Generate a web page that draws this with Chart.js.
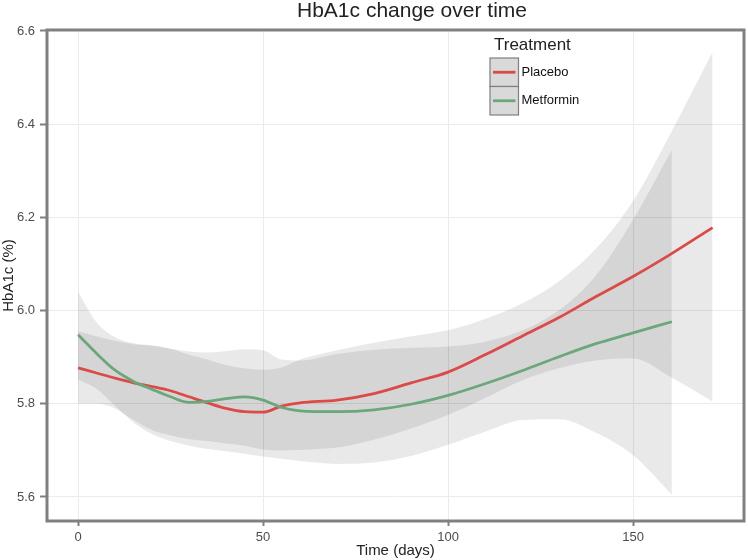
<!DOCTYPE html>
<html>
<head>
<meta charset="utf-8">
<script src="https://cdn.jsdelivr.net/npm/chart.js@4.4.1/dist/chart.umd.min.js"></script>
<style>
  html, body { margin: 0; padding: 0; background: #fff; }
  #chart { display: block; }
</style>
</head>
<body>
<canvas id="chart" width="748" height="560"></canvas>
<script>
// values
const chartTitle = 'HbA1c change over time';
const legendTitle = 'Treatment';
const seriesNames = ['Placebo', 'Metformin'];
const seriesColors = ['#dc4a48', '#6aa77b'];

const placeboDays = [0, 5, 10, 15, 20, 25, 30, 35, 40, 45, 50, 55, 60, 70, 80, 90, 100, 110, 120, 130, 140, 150, 160, 171.5];
const placeboMean = [5.877, 5.866, 5.855, 5.845, 5.837, 5.828, 5.815, 5.802, 5.790, 5.783, 5.782, 5.795, 5.802, 5.808, 5.822, 5.845, 5.868, 5.905, 5.945, 5.985, 6.030, 6.073, 6.120, 6.178];
const placeboUpper = [5.955, 5.945, 5.935, 5.928, 5.925, 5.918, 5.905, 5.895, 5.883, 5.876, 5.873, 5.878, 5.895, 5.915, 5.931, 5.945, 5.958, 5.982, 6.015, 6.063, 6.133, 6.235, 6.378, 6.555];
const placeboLower = [5.800, 5.800, 5.790, 5.765, 5.743, 5.732, 5.724, 5.720, 5.715, 5.710, 5.702, 5.700, 5.701, 5.706, 5.723, 5.747, 5.776, 5.812, 5.850, 5.876, 5.893, 5.897, 5.858, 5.805];

const metforminDays = [0, 5, 10, 15, 20, 25, 30, 35, 40, 45, 50, 55, 60, 70, 80, 90, 100, 110, 120, 130, 140, 150, 160.5];
const metforminMean = [5.948, 5.908, 5.872, 5.848, 5.831, 5.815, 5.803, 5.805, 5.811, 5.815, 5.808, 5.792, 5.785, 5.783, 5.787, 5.799, 5.818, 5.843, 5.871, 5.901, 5.929, 5.952, 5.976];
const metforminUpper = [6.040, 5.975, 5.943, 5.930, 5.925, 5.918, 5.912, 5.910, 5.913, 5.917, 5.915, 5.895, 5.893, 5.907, 5.916, 5.920, 5.923, 5.933, 5.957, 6.001, 6.076, 6.195, 6.345];
const metforminLower = [5.852, 5.832, 5.795, 5.760, 5.735, 5.720, 5.710, 5.703, 5.698, 5.693, 5.687, 5.682, 5.677, 5.671, 5.674, 5.688, 5.712, 5.740, 5.765, 5.767, 5.738, 5.690, 5.605];

const xTicks = [0, 50, 100, 150];
const yTicks = [5.6, 5.8, 6.0, 6.2, 6.4, 6.6];

const FONT = "'Liberation Sans', Arial, Helvetica, sans-serif";
const ribbonFill = 'rgba(0, 0, 0, 0.085)';

function points(days, values) {
    return days.map((d, i) => ({ x: d, y: values[i] }));
}

function ribbon(days, values, fill) {
    return {
        data: points(days, values),
        borderWidth: 0,
        pointRadius: 0,
        backgroundColor: ribbonFill,
        fill: fill,
        cubicInterpolationMode: 'monotone'
    };
}

function meanLine(days, values, color) {
    return {
        data: points(days, values),
        borderColor: color,
        borderWidth: 2.8,
        pointRadius: 0,
        fill: false,
        cubicInterpolationMode: 'monotone'
    };
}

// ggplot-like title, panel border and legend inside the panel
const panelPlugin = {
    id: 'panel',
    afterDraw(chart) {
        const { ctx, chartArea } = chart;
        ctx.save();
        ctx.strokeStyle = '#808080';
        ctx.lineWidth = 3;
        ctx.strokeRect(chartArea.left, chartArea.top, chartArea.right - chartArea.left, chartArea.bottom - chartArea.top);

        ctx.fillStyle = '#222';
        ctx.font = '21px ' + FONT;
        ctx.textAlign = 'center';
        ctx.textBaseline = 'middle';
        ctx.fillText(chartTitle, 412, 11);

        // legend
        const lx = 490, ly = 58, key = 28.5;
        ctx.textAlign = 'left';
        ctx.font = '17px ' + FONT;
        ctx.fillText(legendTitle, 494, 45);
        seriesNames.forEach((name, i) => {
            const y = ly + i * key;
            ctx.fillStyle = '#d9d9d9';
            ctx.fillRect(lx, y, key, key);
            ctx.strokeStyle = '#7f7f7f';
            ctx.lineWidth = 1.2;
            ctx.strokeRect(lx, y, key, key);
            ctx.strokeStyle = seriesColors[i];
            ctx.lineWidth = 2.8;
            ctx.beginPath();
            ctx.moveTo(lx + 3, y + key / 2);
            ctx.lineTo(lx + key - 3, y + key / 2);
            ctx.stroke();
            ctx.fillStyle = '#111';
            ctx.font = '13px ' + FONT;
            ctx.fillText(name, lx + key + 3, y + key / 2);
        });
        ctx.restore();
    }
};

const ctx = document.getElementById('chart').getContext('2d');
new Chart(ctx, {
    type: 'line',
    data: {
        datasets: [
            ribbon(placeboDays, placeboLower, false),
            ribbon(placeboDays, placeboUpper, '-1'),
            ribbon(metforminDays, metforminLower, false),
            ribbon(metforminDays, metforminUpper, '-1'),
            meanLine(metforminDays, metforminMean, seriesColors[1]),
            meanLine(placeboDays, placeboMean, seriesColors[0])
        ]
    },
    options: {
        responsive: false,
        animation: false,
        layout: { padding: { top: 30, right: 4, bottom: 0, left: 0 } },
        plugins: {
            legend: { display: false },
            tooltip: { enabled: false },
            filler: { drawTime: 'beforeDatasetsDraw' },
            title: { display: false }
        },
        scales: {
            x: {
                type: 'linear',
                min: -8.4,
                max: 180,
                afterFit: s => { s.height = 39; },
                afterBuildTicks: s => { s.ticks = xTicks.map(v => ({ value: v })); },
                border: { display: false },
                grid: { color: '#ebebeb', lineWidth: 1, tickColor: '#7f7f7f', tickLength: 5, tickWidth: 2 },
                ticks: { color: '#4d4d4d', font: { family: FONT, size: 13 }, padding: 4, maxRotation: 0 },
                title: { display: true, text: 'Time (days)', color: '#222', font: { family: FONT, size: 15 }, padding: { top: 0, bottom: 0 } }
            },
            y: {
                type: 'linear',
                min: 5.5485,
                max: 6.602,
                afterFit: s => { s.width = 47; },
                afterBuildTicks: s => { s.ticks = yTicks.map(v => ({ value: v })); },
                border: { display: false },
                grid: { color: '#ebebeb', lineWidth: 1, tickColor: '#7f7f7f', tickLength: 7, tickWidth: 2 },
                ticks: { color: '#4d4d4d', font: { family: FONT, size: 13 }, padding: 5, callback: v => v.toFixed(1) },
                title: { display: true, text: 'HbA1c (%)', color: '#222', font: { family: FONT, size: 15 }, padding: { top: 0, bottom: 0 } }
            }
        }
    },
    plugins: [panelPlugin]
});
</script>
</body>
</html>
